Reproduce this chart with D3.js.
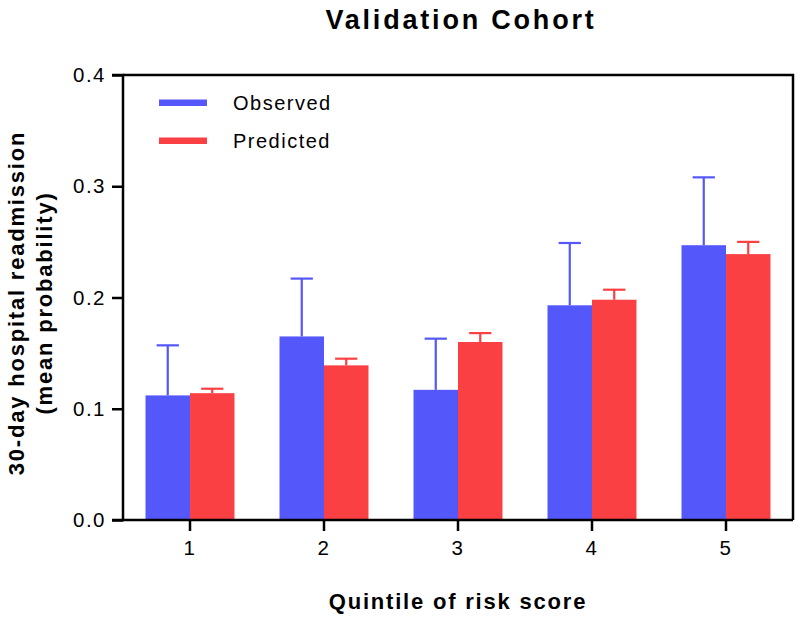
<!DOCTYPE html>
<html>
<head>
<meta charset="utf-8">
<script src="https://cdn.jsdelivr.net/npm/d3@7"></script>
<style>
  html, body { margin: 0; padding: 0; background: #fff; }
  svg { display: block; font-family: Arial, "Liberation Sans", Helvetica, sans-serif; }
</style>
</head>
<body>
<svg id="chart" width="800" height="617"></svg>
<script>
const categories = ["1", "2", "3", "4", "5"];
const seriesNames = ["Observed", "Predicted"];
const observed = [0.112, 0.165, 0.117, 0.193, 0.247];
const observedErr = [0.045, 0.052, 0.046, 0.056, 0.061];
const predicted = [0.114, 0.139, 0.160, 0.198, 0.239];
const predictedErr = [0.004, 0.006, 0.008, 0.009, 0.011];
const yTicks = [0.0, 0.1, 0.2, 0.3, 0.4];
const colors = ["#5457fa", "#fa4042"];

const svg = d3.select("#chart");
const W = 800, H = 617;
const margin = { top: 75, right: 7, bottom: 97, left: 123 };
const iw = W - margin.left - margin.right;
const ih = H - margin.top - margin.bottom;

const g = svg.append("g").attr("transform", `translate(${margin.left},${margin.top})`);

const x = d3.scaleBand().domain(categories).range([0, iw]).paddingInner(0.336).paddingOuter(0.168);
const xs = d3.scaleBand().domain(seriesNames).range([0, x.bandwidth()]);
const y = d3.scaleLinear().domain([0, 0.4]).range([ih, 0]);

const rows = categories.map((c, i) => ({
  cat: c,
  vals: [
    { s: seriesNames[0], v: observed[i], e: observedErr[i], col: colors[0] },
    { s: seriesNames[1], v: predicted[i], e: predictedErr[i], col: colors[1] }
  ]
}));

const groups = g.selectAll("g.grp").data(rows).join("g")
  .attr("class", "grp")
  .attr("transform", d => `translate(${x(d.cat)},0)`);

// error bars (drawn first so bars cover bottom)
groups.selectAll("g.err").data(d => d.vals).join("g").attr("class", "err")
  .each(function(d) {
    const cx = xs(d.s) + xs.bandwidth() / 2;
    const capW = xs.bandwidth() / 2;
    const el = d3.select(this);
    el.append("line")
      .attr("x1", cx).attr("x2", cx)
      .attr("y1", y(d.v)).attr("y2", y(d.v + d.e))
      .attr("stroke", d.col).attr("stroke-width", 2.2);
    el.append("line")
      .attr("x1", cx - capW / 2).attr("x2", cx + capW / 2)
      .attr("y1", y(d.v + d.e)).attr("y2", y(d.v + d.e))
      .attr("stroke", d.col).attr("stroke-width", 2.2);
  });

groups.selectAll("rect").data(d => d.vals).join("rect")
  .attr("x", d => xs(d.s))
  .attr("width", xs.bandwidth())
  .attr("y", d => y(d.v))
  .attr("height", d => y(0) - y(d.v))
  .attr("fill", d => d.col);

// frame: top and right lines
g.append("path")
  .attr("d", `M${0},${y(0.4)}H${iw}V${y(0)}`)
  .attr("fill", "none").attr("stroke", "#000").attr("stroke-width", 2.5);

// Y axis
const yAxis = g.append("g")
  .call(d3.axisLeft(y).tickValues(yTicks).tickFormat(d3.format(".1f")).tickSize(11).tickPadding(6));
// X axis
const xAxis = g.append("g").attr("transform", `translate(0,${ih})`)
  .call(d3.axisBottom(x).tickSize(11).tickPadding(9));

[yAxis, xAxis].forEach(a => {
  a.select(".domain").attr("stroke", "#000").attr("stroke-width", 2.5);
  a.selectAll(".tick line").attr("stroke", "#000").attr("stroke-width", 2.5);
  a.selectAll(".tick text")
    .attr("fill", "#000")
    .style("font-size", "20.5px")
    .style("letter-spacing", "1.5px")
    .style("font-family", "Arial, 'Liberation Sans', sans-serif");
});
yAxis.select(".domain").attr("d", `M-11,${y(0.4)}H0V${y(0)}H-11`);
xAxis.select(".domain").attr("d", `M0,0H${iw}`);

// Legend
const legend = g.append("g");
seriesNames.forEach((s, i) => {
  const ly = 102.7 - margin.top + i * 38;
  legend.append("line")
    .attr("x1", 159 - margin.left).attr("x2", 207 - margin.left)
    .attr("y1", ly).attr("y2", ly)
    .attr("stroke", colors[i]).attr("stroke-width", 6.5);
  legend.append("text")
    .attr("x", 233 - margin.left).attr("y", ly + 7.5)
    .style("font-size", "20px").style("letter-spacing", "1.5px")
    .text(s);
});

// Title
svg.append("text")
  .attr("x", 461).attr("y", 29)
  .attr("text-anchor", "middle")
  .style("font-size", "27px").style("font-weight", "bold").style("letter-spacing", "2.8px")
  .text("Validation Cohort");

// X title
svg.append("text")
  .attr("x", margin.left + iw / 2).attr("y", 609)
  .attr("text-anchor", "middle")
  .style("font-size", "22px").style("font-weight", "bold").style("letter-spacing", "1.8px")
  .text("Quintile of risk score");

// Y title (two lines)
const yt = svg.append("text")
  .attr("transform", `translate(24,303) rotate(-90)`)
  .attr("text-anchor", "middle")
  .style("font-size", "22px").style("font-weight", "bold").style("letter-spacing", "1.8px");
yt.append("tspan").attr("x", 0).attr("y", 0).text("30-day hospital readmission");
yt.append("tspan").attr("x", 0).attr("y", 28).text("(mean probability)");
</script>
</body>
</html>
